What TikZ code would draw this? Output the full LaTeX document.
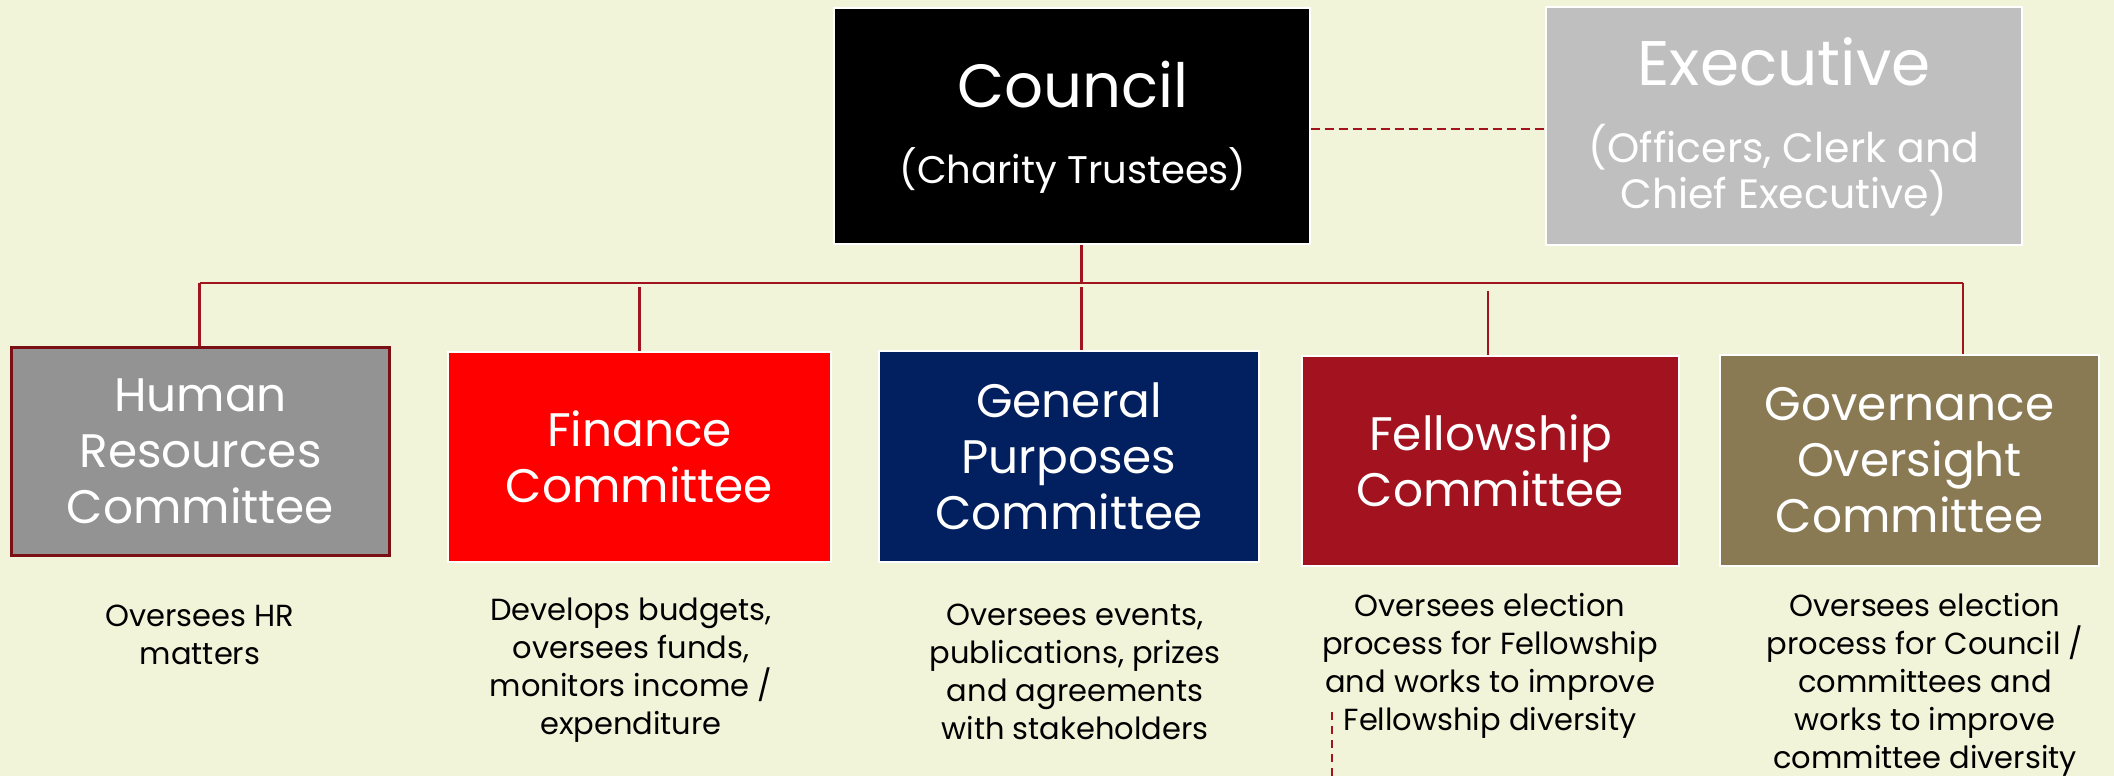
\documentclass[tikz,border=0pt]{standalone}
\usepackage{fontspec}
\setmainfont{Poppins}
\definecolor{bg}{RGB}{242,244,218}
\definecolor{linkred}{RGB}{160,20,30}
\definecolor{hrgray}{RGB}{147,147,147}
\definecolor{hrborder}{RGB}{122,16,20}
\definecolor{finred}{RGB}{255,0,0}
\definecolor{gpnavy}{RGB}{2,32,96}
\definecolor{felred}{RGB}{163,18,31}
\definecolor{govbrown}{RGB}{138,122,84}
\definecolor{exgray}{RGB}{191,191,191}
\begin{document}
\begin{tikzpicture}[x=1pt,y=-1pt,
  box/.style={draw=white, line width=2pt, inner sep=0pt, align=center, text=white,
    font=\fontsize{47}{56}\selectfont},
  title/.style={inner sep=0pt, text=white, font=\fontsize{61}{68}\selectfont},
  subtitle/.style={inner sep=0pt, align=center, text=white, font=\fontsize{39}{46}\selectfont},
  desc/.style={inner sep=0pt, align=center, text=black, font=\fontsize{30.5}{38}\selectfont},
  link/.style={draw=linkred, line width=2.5pt},
  dashlink/.style={draw=linkred, line width=2.5pt, dash pattern=on 9pt off 5pt},
  vdashlink/.style={draw=linkred, line width=2pt, dash pattern=on 8pt off 6pt}]
\fill[bg] (0,0) rectangle (2114,776);
\useasboundingbox (0,0) rectangle (2114,776);

% top boxes
\node[box, fill=black, minimum width=476pt, minimum height=236pt] (council) at (1071.5,126) {};
\node[title] (councilT) at (1073,85) {Council};
\node[subtitle, font=\fontsize{38.5}{46}\selectfont] (councilS) at (1073,170) {(Charity Trustees)};

\node[box, fill=exgray, minimum width=476pt, minimum height=238pt] (exec) at (1784,126) {};
\node[title, font=\fontsize{63}{70}\selectfont] (execT) at (1784,62) {Executive};
\node[subtitle, font=\fontsize{41}{46}\selectfont] (execS) at (1784,170) {(Officers, Clerk and\\Chief Executive)};

% committees
\node[box, draw=hrborder, line width=3pt, fill=hrgray, minimum width=378pt, minimum height=208pt] (hr) at (200.5,451) {Human\\Resources\\Committee};
\node[box, fill=finred, minimum width=383pt, minimum height=210pt] (fin) at (639.5,457) {Finance\\Committee};
\node[box, fill=gpnavy, minimum width=380pt, minimum height=211pt] (gp) at (1069,456.5) {General\\Purposes\\Committee};
\node[box, fill=felred, minimum width=377pt, minimum height=210pt] (fel) at (1490.5,461) {Fellowship\\Committee};
\node[box, fill=govbrown, minimum width=379pt, minimum height=211pt] (gov) at (1909.5,460.5) {Governance\\Oversight\\Committee};

% descriptions
\node[desc] (hrD) at (200,635) {Oversees HR\\matters};
\node[desc] (finD) at (631,670) {Develops budgets,\\oversees funds,\\monitors income /\\expenditure};
\node[desc] (gpD) at (1075,672) {Oversees events,\\publications, prizes\\and agreements\\with stakeholders};
\node[desc] (felD) at (1490,666) {Oversees election\\process for Fellowship\\and works to improve\\Fellowship diversity};
\node[desc] (govD) at (1925,685) {Oversees election\\process for Council /\\committees and\\works to improve\\committee diversity};

% connectors
\coordinate (bar) at (1081.5,283);
\coordinate (barL) at (199.5,283);
\coordinate (barR) at (1963,283);
\draw[link] (council.south -| bar) -- (bar);
\draw[link] (barL) -- (barR);
\draw[link] (barL) -- (hr.north -| barL);
\draw[link] (fin.north |- 0,287) -- (fin.north);
\draw[link] (bar |- 0,287) -- (gp.north -| bar);
\draw[link] (1488,291) -- (fel.north -| 1488,0);
\draw[link] (barR) -- (gov.north -| barR);
\draw[dashlink] (council.east |- 0,129) -- (exec.west |- 0,129);

\coordinate (dashTop) at (1331.5,712);
\coordinate (dashBot) at (1331.5,776);
\draw[vdashlink] (dashTop) -- (dashBot);
\end{tikzpicture}
\end{document}
